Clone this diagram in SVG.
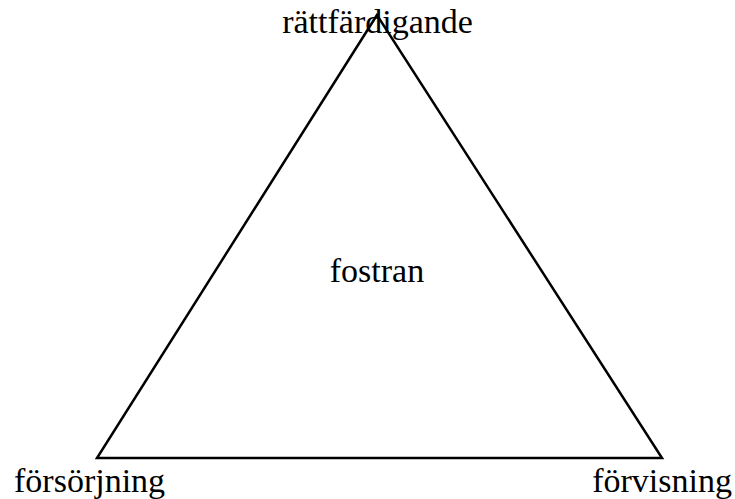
<svg xmlns="http://www.w3.org/2000/svg" width="735" height="499" viewBox="0 0 735 499">
<style>
text{font-family:"Liberation Serif","Times New Roman",serif;font-size:34px;fill:#000}
.edge{stroke:#000;stroke-width:2.5;fill:none;stroke-linejoin:miter}
</style>
<rect width="735" height="499" fill="#fff"/>
<g id="connectors">
<polygon class="edge" points="377,15 97,458 662,458"/>
</g>
<g id="node-rattfardigande"><text x="377.5" y="33" text-anchor="middle">rättfärdigande</text></g>
<g id="node-fostran"><text x="377" y="282" text-anchor="middle">fostran</text></g>
<g id="node-forsorjning"><text x="14" y="492">försörjning</text></g>
<g id="node-forvisning"><text x="732" y="492" text-anchor="end">förvisning</text></g>
</svg>
